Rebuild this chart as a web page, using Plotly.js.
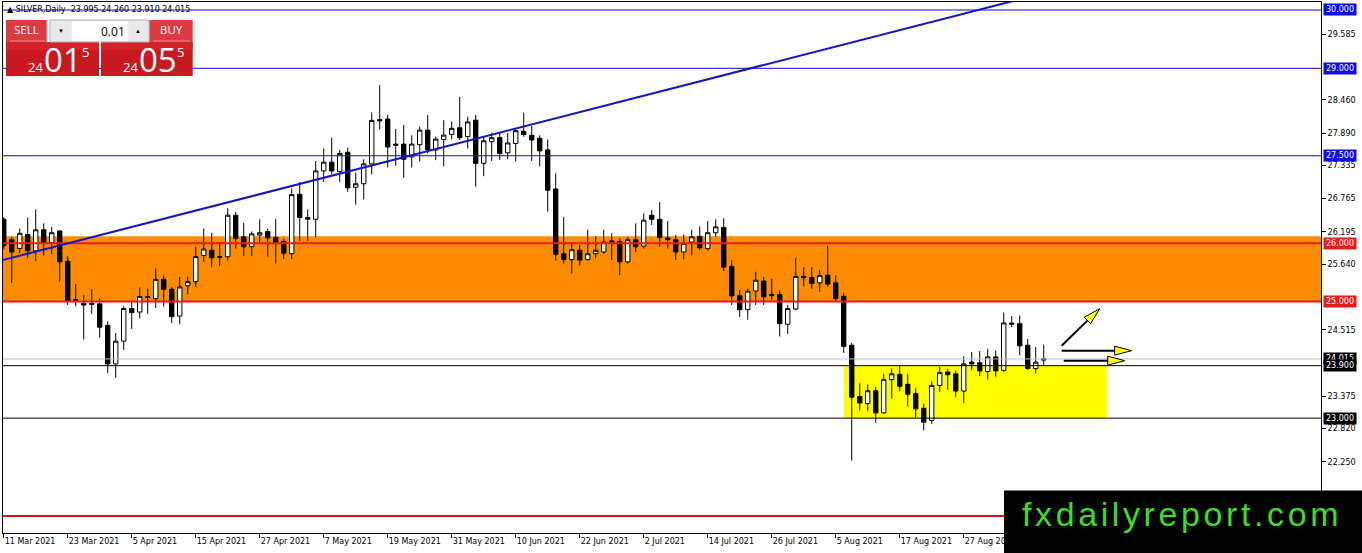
<!DOCTYPE html>
<html>
<head>
<meta charset="utf-8">
<script src="https://cdn.plot.ly/plotly-3.0.1.min.js"></script>
<style>html,body{margin:0;padding:0;background:#fff}#chart{width:1362px;height:553px}</style>
</head>
<body>
<div id="chart"></div>
<script>
// SILVER Daily — MT4 스타일 캔들 차트 재현. 값은 그림에서 읽은 근사치.

// 거래일 (11 Mar 2021 ~ 10 Sep 2021)
const dates = [
  '2021-03-11','2021-03-12','2021-03-15','2021-03-16','2021-03-17','2021-03-18','2021-03-19','2021-03-22','2021-03-23','2021-03-24',
  '2021-03-25','2021-03-26','2021-03-29','2021-03-30','2021-03-31','2021-04-01','2021-04-05','2021-04-06','2021-04-07','2021-04-08',
  '2021-04-09','2021-04-12','2021-04-13','2021-04-14','2021-04-15','2021-04-16','2021-04-19','2021-04-20','2021-04-21','2021-04-22',
  '2021-04-23','2021-04-26','2021-04-27','2021-04-28','2021-04-29','2021-04-30','2021-05-03','2021-05-04','2021-05-05','2021-05-06',
  '2021-05-07','2021-05-10','2021-05-11','2021-05-12','2021-05-13','2021-05-14','2021-05-17','2021-05-18','2021-05-19','2021-05-20',
  '2021-05-21','2021-05-24','2021-05-25','2021-05-26','2021-05-27','2021-05-28','2021-05-31','2021-06-01','2021-06-02','2021-06-03',
  '2021-06-04','2021-06-07','2021-06-08','2021-06-09','2021-06-10','2021-06-11','2021-06-14','2021-06-15','2021-06-16','2021-06-17',
  '2021-06-18','2021-06-21','2021-06-22','2021-06-23','2021-06-24','2021-06-25','2021-06-28','2021-06-29','2021-06-30','2021-07-01',
  '2021-07-02','2021-07-05','2021-07-06','2021-07-07','2021-07-08','2021-07-09','2021-07-12','2021-07-13','2021-07-14','2021-07-15',
  '2021-07-16','2021-07-19','2021-07-20','2021-07-21','2021-07-22','2021-07-23','2021-07-26','2021-07-27','2021-07-28','2021-07-29',
  '2021-07-30','2021-08-02','2021-08-03','2021-08-04','2021-08-05','2021-08-06','2021-08-09','2021-08-10','2021-08-11','2021-08-12',
  '2021-08-13','2021-08-16','2021-08-17','2021-08-18','2021-08-19','2021-08-20','2021-08-23','2021-08-24','2021-08-25','2021-08-26',
  '2021-08-27','2021-08-30','2021-08-31','2021-09-01','2021-09-02','2021-09-03','2021-09-06','2021-09-07','2021-09-08','2021-09-09',
  '2021-09-10',
];

const open = [
  26.41, 26.06, 25.91, 26.15, 25.87, 26.23, 26.01, 26.21, 25.69, 25.02,
  24.97, 24.95, 24.96, 24.59, 23.93, 24.32, 24.88, 24.82, 25.08, 25.05,
  25.38, 25.21, 24.75, 25.27, 25.34, 25.79, 25.88, 25.77, 25.77, 26.48,
  26.11, 25.94, 26.14, 26.20, 26.10, 26.03, 25.82, 26.84, 26.44, 26.41,
  27.24, 27.39, 27.23, 27.56, 26.96, 27.02, 27.36, 28.12, 28.13, 27.70,
  27.70, 27.48, 27.69, 27.94, 27.60, 27.78, 27.865, 27.98, 27.83, 28.11,
  27.37, 27.74, 27.81, 27.55, 27.71, 27.92, 27.85, 27.80, 27.60, 26.93,
  25.82, 25.72, 25.88, 25.72, 25.82, 25.85, 26.04, 26.03, 25.68, 26.06,
  25.95, 26.48, 26.41, 26.09, 26.06, 25.85, 26.02, 26.12, 25.91, 26.18,
  26.27, 25.60, 25.10, 24.86, 25.18, 25.35, 25.12, 25.12, 24.61, 24.87,
  25.43, 25.41, 25.32, 25.45, 25.32, 25.09, 24.25, 23.37, 23.25, 23.47,
  23.09, 23.66, 23.75, 23.58, 23.42, 23.17, 22.96, 23.56, 23.79, 23.76,
  23.465, 23.96, 23.95, 23.80, 24.05, 23.82, 24.63, 24.62, 24.25, 23.85,
  23.995,
];
const high = [
  26.45, 26.11, 26.25, 26.44, 26.58, 26.34, 26.28, 26.22, 25.78, 25.30,
  25.11, 25.21, 25.05, 24.66, 24.46, 24.92, 24.99, 25.24, 25.22, 25.57,
  25.45, 25.25, 25.42, 25.43, 25.94, 26.25, 26.18, 26.02, 26.60, 26.54,
  26.35, 26.20, 26.41, 26.25, 26.42, 26.08, 26.94, 27.05, 26.58, 27.41,
  27.625, 27.81, 27.60, 27.64, 27.21, 27.44, 28.243, 28.71, 28.20, 27.96,
  28.03, 27.85, 28.00, 28.20, 27.825, 28.11, 28.09, 28.51, 28.17, 28.20,
  27.83, 27.895, 27.91, 27.89, 27.97, 28.24, 28.01, 27.85, 27.78, 27.20,
  26.45, 26.02, 25.97, 26.23, 26.12, 26.23, 26.17, 26.08, 26.11, 26.34,
  26.51, 26.57, 26.71, 26.38, 26.14, 26.15, 26.23, 26.29, 26.38, 26.41,
  26.43, 25.71, 25.20, 25.22, 25.51, 25.42, 25.39, 25.19, 24.94, 25.75,
  25.59, 25.59, 25.54, 25.955, 25.45, 25.15, 24.29, 23.60, 23.58, 23.53,
  23.76, 23.85, 23.91, 23.76, 23.52, 23.25, 23.63, 23.88, 23.85, 23.82,
  24.06, 24.135, 24.15, 24.19, 24.16, 24.81, 24.75, 24.76, 24.36, 24.22,
  24.26,
];
const low = [
  25.90, 25.32, 25.83, 25.75, 25.69, 25.79, 25.81, 25.34, 24.94, 24.92,
  24.35, 24.79, 24.38, 23.77, 23.69, 24.17, 24.53, 24.71, 24.79, 24.89,
  24.91, 24.63, 24.61, 25.12, 25.25, 25.68, 25.58, 25.61, 25.70, 25.91,
  25.78, 25.78, 25.99, 25.77, 25.65, 25.73, 25.73, 26.04, 26.04, 26.10,
  27.05, 27.18, 27.05, 26.88, 26.66, 26.75, 27.18, 27.95, 27.30, 27.33,
  27.12, 27.30, 27.40, 27.54, 27.425, 27.32, 27.78, 27.77, 27.625, 26.97,
  27.15, 27.41, 27.43, 27.44, 27.40, 27.826, 27.41, 27.32, 26.54, 25.70,
  25.65, 25.48, 25.62, 25.70, 25.74, 25.82, 25.71, 25.45, 25.65, 25.85,
  25.91, 26.31, 25.94, 25.91, 25.71, 25.72, 25.79, 25.88, 25.87, 26.11,
  25.52, 24.94, 24.735, 24.69, 24.94, 24.94, 25.03, 24.40, 24.44, 24.85,
  25.26, 25.22, 25.165, 25.25, 25.01, 24.12, 22.27, 23.13, 23.12, 22.92,
  23.08, 23.33, 23.46, 23.20, 23.01, 22.79, 22.90, 23.45, 23.49, 23.36,
  23.26, 23.82, 23.72, 23.66, 23.71, 23.79, 24.56, 24.08, 23.83, 23.77,
  23.91,
];
const close = [
  25.96, 25.85, 26.17, 25.87, 26.23, 26.01, 26.18, 25.68, 25.01, 25.03,
  24.94, 24.97, 24.56, 23.93, 24.32, 24.88, 24.81, 25.085, 25.07, 25.38,
  25.21, 24.74, 25.25, 25.34, 25.77, 25.90, 25.75, 25.76, 26.48, 26.08,
  25.94, 26.16, 26.18, 26.09, 26.01, 25.83, 26.835, 26.44, 26.41, 27.24,
  27.39, 27.24, 27.54, 26.95, 27.02, 27.36, 28.106, 28.10, 27.65, 27.68,
  27.44, 27.70, 27.94, 27.60, 27.785, 27.854, 27.97, 27.81, 28.08, 27.37,
  27.757, 27.81, 27.54, 27.72, 27.93, 27.865, 27.77, 27.585, 26.91, 25.81,
  25.72, 25.89, 25.71, 25.82, 25.88, 26.02, 26.02, 25.68, 26.06, 25.94,
  26.395, 26.41, 26.10, 26.06, 25.85, 26.00, 26.11, 25.92, 26.18, 26.28,
  25.59, 25.096, 24.86, 25.176, 25.365, 25.08, 25.10, 24.62, 24.88, 25.43,
  25.41, 25.31, 25.445, 25.30, 25.05, 24.23, 23.36, 23.26, 23.47, 23.09,
  23.66, 23.76, 23.545, 23.41, 23.16, 22.93, 23.56, 23.78, 23.745, 23.465,
  23.93, 23.93, 23.81, 24.05, 23.81, 24.632, 24.61, 24.24, 23.85, 23.96,
  24.015,
];

// 날짜축 라벨 (8봉 간격)
const tickDates = ['2021-03-11','2021-03-23','2021-04-05','2021-04-15','2021-04-27','2021-05-07','2021-05-19','2021-05-31',
  '2021-06-10','2021-06-22','2021-07-02','2021-07-14','2021-07-26','2021-08-05','2021-08-17','2021-08-27'];
const tickText = ['11 Mar 2021','23 Mar 2021','5 Apr 2021','15 Apr 2021','27 Apr 2021','7 May 2021','19 May 2021','31 May 2021',
  '10 Jun 2021','22 Jun 2021','2 Jul 2021','14 Jul 2021','26 Jul 2021','5 Aug 2021','17 Aug 2021','27 Aug 2021'];
// 가격축 눈금
const priceTicks = [29.585, 28.460, 27.890, 27.335, 26.765, 26.195, 25.640, 24.515, 23.375, 22.820, 22.250];

// 수평선 / 구간 / 추세선 (가격, 봉 인덱스)
const blueLevels = [30, 29, 27.5];
const redLevels = [26, 25];
const blackLevels = [23.9, 23];
const lowerRedLevel = 21.32;
const orangeZone = [25, 26.12];
const yellowZoneBars = [105, 137.9];
const yellowZonePrices = [23, 23.9];
const trendBars = [-1, 140];
const trendPrices = [25.68, 30.64];
// 화살표 꼬리 위치 (봉 인덱스, 가격)
const arrowBars = [132.24, 132.24, 132.5];
const arrowPrices = [24.243, 24.157, 23.985];

// ---- 스타일 ----
const FONT = '"DejaVu Sans", Tahoma, sans-serif';
const UI_FONT = '"Open Sans", "Noto Sans", sans-serif';
const W = 1362, H = 553, M = { l: 3, r: 41, t: 2, b: 20 };
const PW = W - M.l - M.r, PH = H - M.t - M.b;
const px = (x) => (x - M.l) / PW; // 픽셀 → paper
const py = (y) => (H - M.b - y) / PH;
const BLUE = '#0a0ad2', RED = '#e81c1c', LABEL_BLUE = '#0c0cf0';
const last = close.length - 1;

const hline = (y, color, width) => ({
  type: 'line', xref: 'paper', yref: 'y', x0: 0, x1: 1, y0: y, y1: y, layer: 'above',
  line: { color, width },
});

const shapes = [
  { type: 'rect', xref: 'paper', yref: 'y', x0: 0, x1: 1, y0: orangeZone[0], y1: orangeZone[1],
    fillcolor: '#ff8c00', line: { width: 0 }, layer: 'below' },
  { type: 'rect', xref: 'x', yref: 'y', x0: yellowZoneBars[0], x1: yellowZoneBars[1],
    y0: yellowZonePrices[0], y1: yellowZonePrices[1], fillcolor: '#ffff00', line: { width: 0 }, layer: 'below' },
  ...blueLevels.map((v) => hline(v, BLUE, 1)),
  ...redLevels.map((v) => hline(v, RED, 2)),
  hline(close[last], '#c0c0c0', 1),
  ...blackLevels.map((v) => hline(v, '#000', 1)),
  hline(lowerRedLevel, '#c8161e', 2),
  { type: 'line', xref: 'x', yref: 'y', x0: trendBars[0], x1: trendBars[1], y0: trendPrices[0], y1: trendPrices[1],
    line: { color: '#1414c8', width: 2 }, layer: 'above' },
];

// 화살표: 검은 축 + 노란 삼각 머리 (픽셀 벡터, 위쪽 +)
const arrowVec = [[38, 37], [70, 0], [61, 0]];
const HEAD_L = 17, HEAD_W = 4.5;
arrowBars.forEach((b, k) => {
  const [dx, dy] = arrowVec[k];
  const len = Math.hypot(dx, dy), ux = dx / len, uy = dy / len;
  const bx = dx - ux * HEAD_L, by = dy - uy * HEAD_L;
  const base = { xref: 'x', yref: 'y', xsizemode: 'pixel', ysizemode: 'pixel', xanchor: b, yanchor: arrowPrices[k], layer: 'above' };
  shapes.push({ ...base, type: 'line', x0: 0, y0: 0, x1: bx + ux * 2, y1: by + uy * 2, line: { color: '#000', width: 2 } });
  const p1 = [bx - uy * HEAD_W, by + ux * HEAD_W], p2 = [bx + uy * HEAD_W, by - ux * HEAD_W];
  shapes.push({ ...base, type: 'path', path: `M${p1[0]},${p1[1]} L${dx},${dy} L${p2[0]},${p2[1]} Z`,
    fillcolor: '#ffff00', line: { color: '#000', width: 1 } });
});

// 원클릭 트레이딩 패널
const prect = (x0, y0, x1, y1, fill, line) => ({
  type: 'rect', xref: 'paper', yref: 'paper', x0: px(x0), x1: px(x1), y0: py(y1), y1: py(y0),
  fillcolor: fill, line: line || { width: 0 }, layer: 'above',
});
shapes.push(
  prect(6, 20, 46.7, 42, '#de3a40'), prect(6, 42, 99, 76, '#c81820'), prect(6, 42, 99, 50, '#d42229'),
  prect(149.3, 20, 192.7, 42, '#de3a40'), prect(101, 42, 192.7, 76, '#c81820'), prect(101, 42, 192.7, 50, '#d42229'),
  prect(50, 20, 149, 42, '#e9e9e9', { color: '#b4b4b4', width: 1 }),
  prect(71.7, 21, 128.3, 41, '#ffffff', { width: 0 }),
  prect(10, 40.5, 45, 41.5, '#f08a8e'), prect(153, 40.5, 190, 41.5, '#f08a8e'),
  // 워터마크
  prect(1004, 490.5, 1362, 553, '#000'),
);

const ann = (x, y, text, size, color, extra) => ({
  xref: 'paper', yref: 'paper', x: px(x), y: py(y), text, showarrow: false, borderpad: 0,
  font: { family: UI_FONT, size, color }, xanchor: 'center', yanchor: 'middle', ...extra,
});
const levelLabel = (v, bg) => ({
  xref: 'paper', yref: 'y', x: px(1323), y: v, xanchor: 'left', yanchor: 'middle', text: v.toFixed(3),
  showarrow: false, bgcolor: bg, borderpad: 1, width: 30, height: 9,
  font: { family: FONT, size: 8, color: '#fff' },
});

const annotations = [
  ann(6, 9.5, '▲ SILVER,Daily  ' + [open[last], high[last], low[last], close[last]].map((v) => v.toFixed(3)).join(' '),
    8, '#000', { xanchor: 'left', font: { family: FONT, size: 8, color: '#000' } }),
  ann(26.5, 30, 'SELL', 11.5, '#fff'), ann(171, 30, 'BUY', 11.5, '#fff'),
  ann(61, 31, '▼', 6, '#000'), ann(138.3, 31, '▲', 6, '#000'),
  ann(126, 31, '0.01', 12, '#000', { xanchor: 'right' }),
  ann(35, 66.5, '24', 13, '#fff'), ann(62.5, 59.5, '01', 33, '#fff'), ann(85.5, 52, '5', 13, '#fff'),
  ann(130, 66.5, '24', 13, '#fff'), ann(157.5, 59.5, '05', 33, '#fff'), ann(180.5, 52, '5', 13, '#fff'),
  ...blueLevels.map((v) => levelLabel(v, LABEL_BLUE)),
  ...redLevels.map((v) => levelLabel(v, RED)),
  levelLabel(close[last], '#000'),
  ...blackLevels.map((v) => levelLabel(v, '#000')),
  ann(1021, 514, '<span style="letter-spacing:3.6px">fxdailyreport.com</span>', 34, '#3cdc28',
    { xanchor: 'left', font: { family: '"Liberation Sans", Arial, sans-serif', size: 34, color: '#3cdc28' } }),
];

const trace = {
  type: 'candlestick', x: dates, open, high, low, close,
  increasing: { line: { color: '#000', width: 1 }, fillcolor: '#fff' },
  decreasing: { line: { color: '#000', width: 1 }, fillcolor: '#000' },
  whiskerwidth: 0, hoverinfo: 'skip', showlegend: false,
};

const layout = {
  width: W, height: H, margin: M,
  paper_bgcolor: '#fff', plot_bgcolor: '#fff',
  font: { family: FONT, size: 8, color: '#000' },
  showlegend: false, hovermode: false,
  boxgap: 0.26, boxgroupgap: 0.26,
  xaxis: {
    type: 'category', range: [-0.09, 164.66], rangeslider: { visible: false },
    tickmode: 'array', tickvals: tickDates, ticktext: tickText, ticklabelposition: 'outside right',
    ticks: 'outside', ticklen: 4, tickcolor: '#000', tickfont: { family: FONT, size: 8, color: '#000' },
    showgrid: false, zeroline: false, showline: true, linecolor: '#000', linewidth: 1, mirror: true,
  },
  yaxis: {
    side: 'right', range: [21.03, 30.137], tickmode: 'array', tickvals: priceTicks, tickformat: '.3f',
    ticks: 'outside', ticklen: 4, tickcolor: '#000', tickfont: { family: FONT, size: 8, color: '#000' },
    showgrid: false, zeroline: false, showline: true, linecolor: '#000', linewidth: 1, mirror: true,
  },
  shapes, annotations,
};

Plotly.newPlot('chart', [trace], layout, { displayModeBar: false, staticPlot: true });
</script>
</body>
</html>
